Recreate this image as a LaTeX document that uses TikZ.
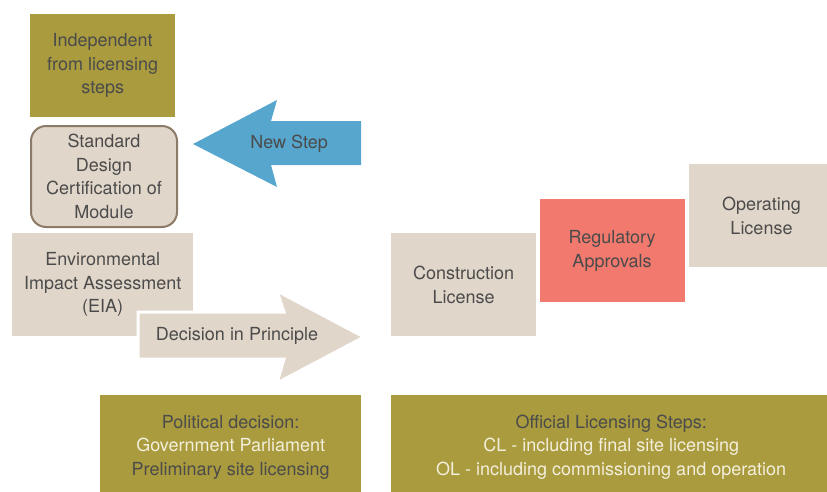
\documentclass[tikz,border=0pt]{standalone}
\usepackage{fontspec}
\setmainfont{TeX Gyre Heros}
\usetikzlibrary{positioning}
\definecolor{olive}{HTML}{A99B3E}
\definecolor{sand}{HTML}{E1D6CA}
\definecolor{salmon}{HTML}{F1796D}
\definecolor{stepblue}{HTML}{57A6CD}
\definecolor{rim}{HTML}{8C7B68}
\definecolor{ink}{HTML}{4B4B4B}
\definecolor{pale}{HTML}{F3EFDC}
\newcommand{\stepfont}{\fontsize{18}{23.5}\selectfont}
\tikzstyle{sandbox}=[rectangle,fill=sand,text=ink,align=center,inner sep=0pt,
minimum width=145,minimum height=103,font=\stepfont,anchor=north west]
\tikzstyle{olivebox}=[sandbox,fill=olive]
\tikzstyle{redbox}=[sandbox,fill=salmon]
\tikzstyle{roundbox}=[sandbox,rounded corners=15pt,draw=rim,line width=2pt,
minimum width=146,minimum height=101]
\tikzstyle{arrowtext}=[text=ink,font=\stepfont,inner sep=0pt]

\begin{document}
\begin{tikzpicture}[x=1pt,y=-1pt]
            \useasboundingbox (0,0) rectangle (827,491);

            % LEFT PART

            \node[olivebox] (indep) at (30,14) {Independent\\from licensing\\steps};
            \node[roundbox] (sdc) at (30,125) {Standard\\Design\\Certification of\\Module};
            \node[sandbox, minimum width=181] (eia) at (12,233) {Environmental\\Impact Assessment\\(EIA)};

            % arrows

            \fill[stepblue] (193,144) -- (277,100) -- (271,121) -- (361,121) -- (361,165)
                -- (271,165) -- (277,187) -- cycle;
            \node[arrowtext] (newstep) at (289,144) {New Step};

            \filldraw[fill=sand, draw=white, line width=3pt, line join=miter]
                (138,312) -- (284,312) -- (277,291) -- (364,337) -- (277,383)
                -- (284,359) -- (138,359) -- cycle;
            \node[arrowtext] (dip) at (237,336) {Decision in Principle};

            % RIGHT PART

            \node[sandbox] (cl) at (391,233) {Construction\\License};
            \node[redbox, anchor=south west] (reg) at ([xshift=3pt,yshift=34pt]cl.south east) {Regulatory\\Approvals};
            \node[sandbox, anchor=south west] (ol) at ([xshift=4pt,yshift=35pt]reg.south east) {Operating\\License};

            % Bottom boxes

            \node[olivebox, minimum width=261, minimum height=104] (pol) at (100,395)
                {Political decision:\\\textcolor{pale}{Government Parliament}\\Preliminary site licensing};
            \node[olivebox, minimum width=440, minimum height=104] (off) at (391,395)
                {Official Licensing Steps:\\\textcolor{pale}{CL - including final site licensing}\\\textcolor{pale}{OL - including commissioning and operation}};

        \end{tikzpicture}
\end{document}
